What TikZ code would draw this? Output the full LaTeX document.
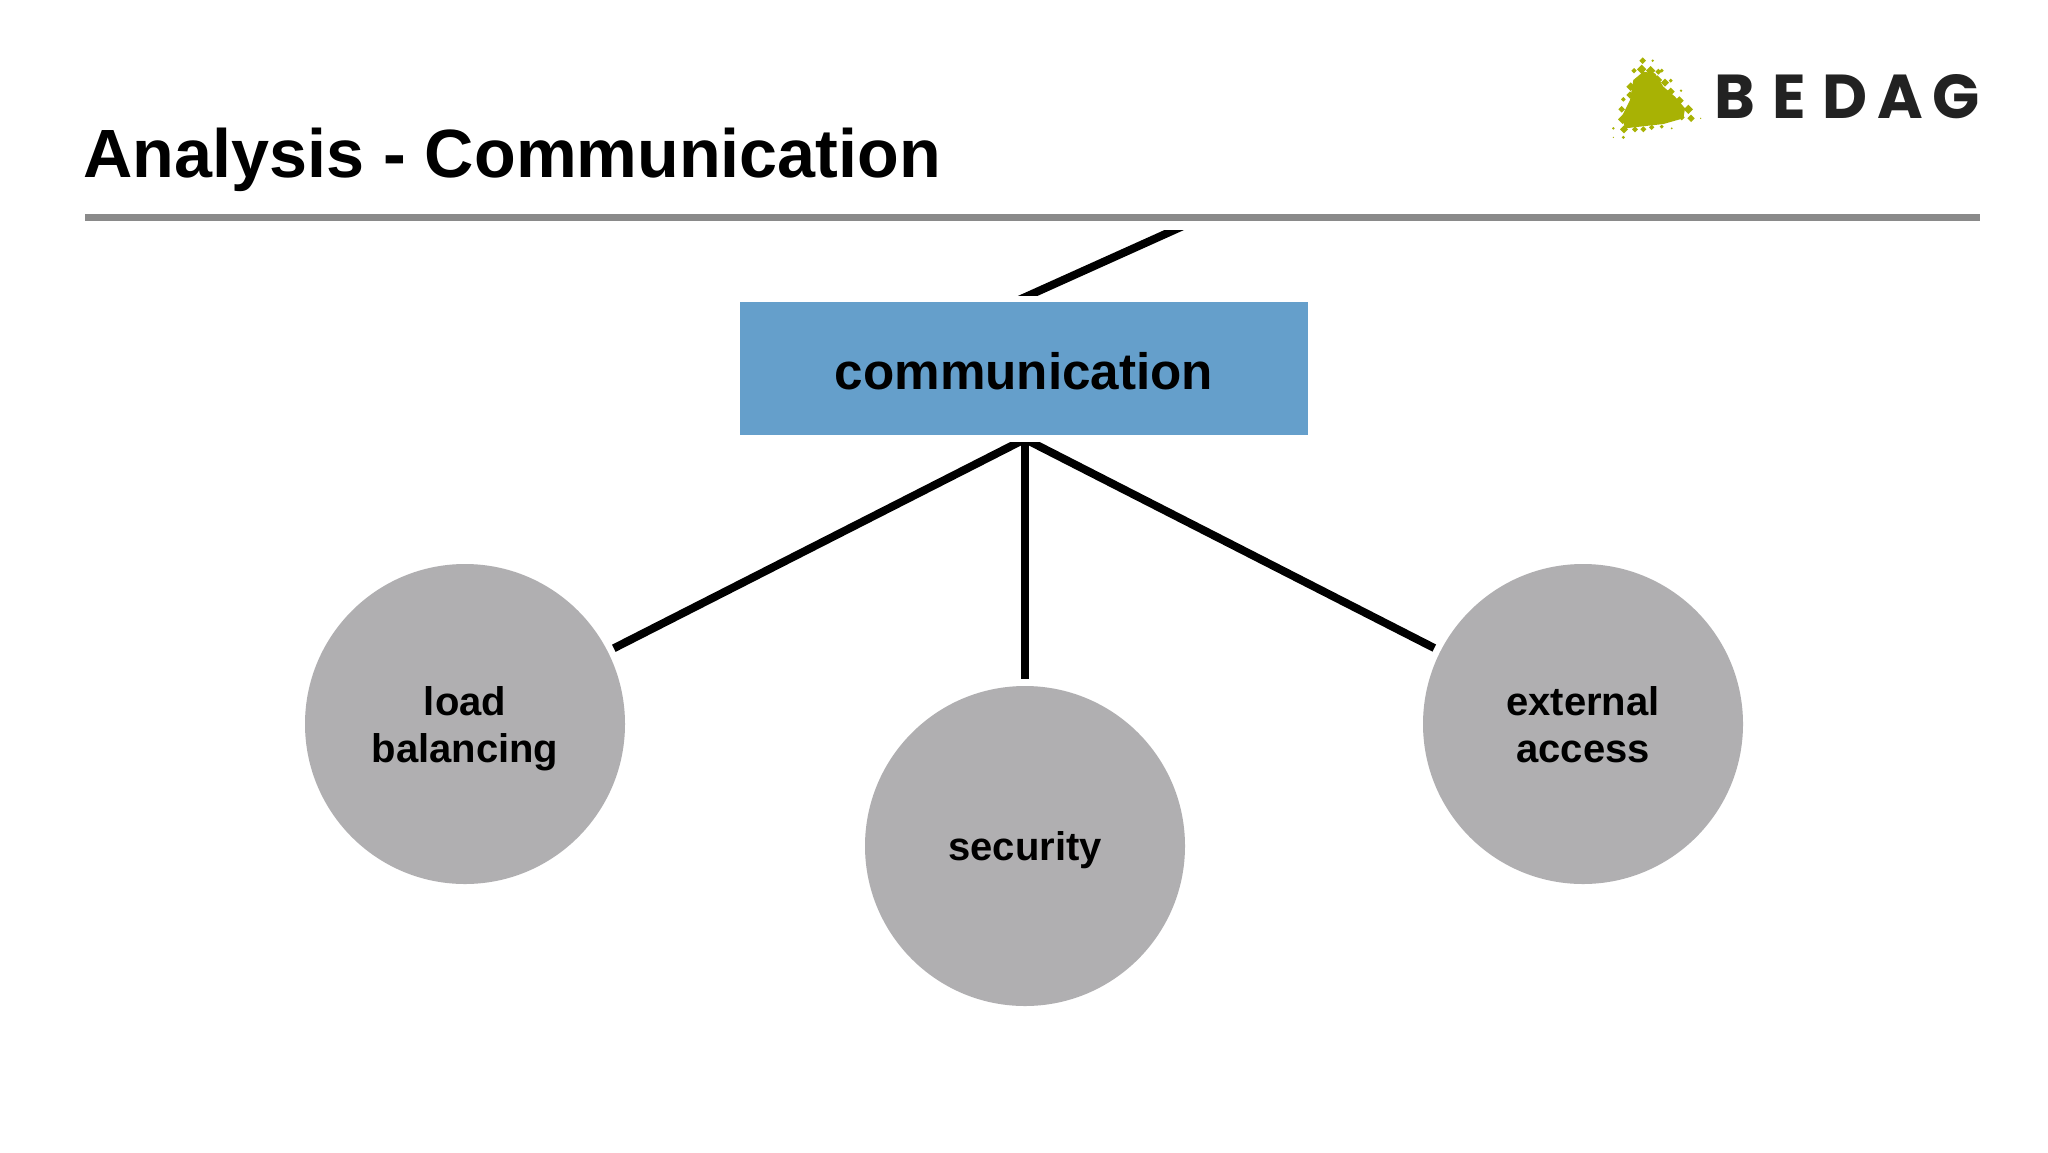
\documentclass[tikz,border=0pt]{standalone}
\usepackage{fontspec}
\setmainfont{Liberation Sans}
\newfontfamily\logofont{Poppins}
\usetikzlibrary{positioning}
\definecolor{rulegray}{HTML}{8A8A8A}
\definecolor{boxblue}{HTML}{659FCB}
\definecolor{topicgray}{HTML}{B0AFB1}
\definecolor{logogreen}{HTML}{A8B204}
\definecolor{logoblack}{HTML}{222222}
\tikzstyle{block} = [rectangle, fill=boxblue, inner sep=0pt, outer sep=4pt,
    minimum height=66.5pt, minimum width=284pt, align=center, text height=21pt,
    font=\fontsize{25.6}{30}\selectfont\bfseries]
\tikzstyle{topic} = [circle, fill=topicgray, inner sep=0pt, outer sep=3.5pt,
    minimum size=160pt, align=center, text depth=0pt,
    font=\fontsize{20}{23.5}\selectfont\bfseries]
\tikzstyle{link} = [draw, line width=4pt, black]
\tikzstyle{logoletter} = [inner sep=0pt, anchor=base west, text=logoblack,
    font=\logofont\bfseries\fontsize{31}{32}\selectfont]
\begin{document}
\begin{tikzpicture}[x=0.5pt, y=-0.5pt]
    \useasboundingbox (0,0) rectangle (2048,1152);
    \fill [white] (0,0) rectangle (2048,1152);

    % We start by placing the heading
    \node [inner sep=0pt, anchor=base west, font=\fontsize{34.15}{40}\selectfont\bfseries] (title)
        at (83,177) {Analysis - Communication};
    \fill [rulegray] (85,214) rectangle (1980,221);

    % The blocks
    \node [block] (communication) at (1024,368.5) {communication};
    \node [topic, xshift=0.5pt] (security) [below=118pt of communication] {security};
    \node [topic, yshift=61pt] (load) [left=113pt of security] {load \\ balancing};
    \node [topic, yshift=61pt] (external) [right=112pt of security] {external \\ access};

    \coordinate (apex) at ([xshift=0.5pt,yshift=2pt]communication.south);
    \coordinate (stublow) at (1012,303);
    \coordinate (stubhigh) at (1192,222);

    % Once the nodes are placed, connecting them is easy.
    \begin{scope}
        \clip (0,442) rectangle (2048,1152);
        \draw [link] (apex) -- (load);
        \draw [link] (apex) -- (security);
        \draw [link] (apex) -- (external);
    \end{scope}
    \begin{scope}
        \clip (0,230) rectangle (2048,295);
        \draw [link] (stublow) -- (stubhigh);
    \end{scope}

    % The logo
    \foreach \letter/\xpos in {B/1714, E/1772, D/1822, A/1877, G/1932}
        \node [logoletter] (logo\letter) at (\xpos,118) {\letter};
    \begin{scope}[shift={(1580,30)}, x=0.16667pt, y=-0.16667pt]
        \fill [logogreen] (190,125) -- (225,130) -- (250,170) -- (285,200) -- (315,235)
            -- (310,265) -- (250,282) -- (135,295) -- (125,260) -- (150,210) -- (160,150) -- cycle;
        \foreach \dx/\dy/\dr in {188/92/10, 218/92/4, 162/122/8, 245/122/6, 272/152/6, 303/182/4,
            130/208/7, 125/238/10, 128/268/14, 100/295/4, 130/322/5, 100/322/2, 333/265/11,
            362/265/2, 132/298/12, 165/298/9, 190/298/9, 215/292/8, 245/290/6, 275/295/3,
            185/118/14, 212/122/14, 235/125/9, 232/150/14, 255/158/12, 272/185/12, 298/212/13,
            325/238/14, 152/170/13, 150/195/11, 305/262/9}
            \fill [logogreen] (\dx,\dy) +(-\dr,0) -- +(0,-\dr) -- +(\dr,0) -- +(0,\dr) -- cycle;
    \end{scope}
\end{tikzpicture}
\end{document}
